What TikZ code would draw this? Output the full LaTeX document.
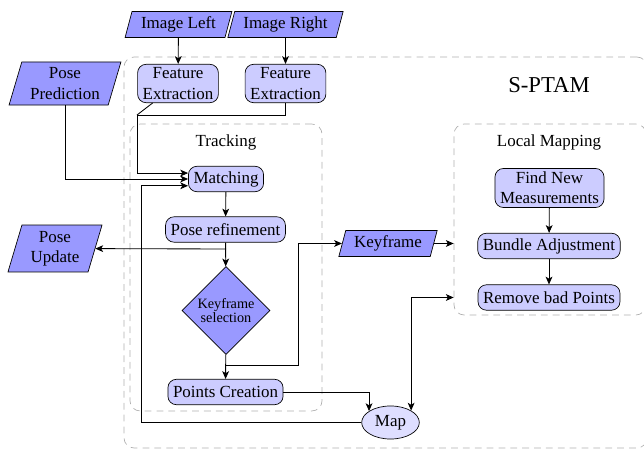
\documentclass[tikz,border=0pt]{standalone}
\usepackage{fontspec}
\setmainfont{Liberation Serif}
\usepackage{tikz}
\usetikzlibrary{shapes.geometric, positioning, arrows.meta}
\definecolor{ioblue}{RGB}{153,153,255}
\definecolor{procblue}{RGB}{204,204,255}
\definecolor{mapblue}{RGB}{222,222,255}
\definecolor{groupgrey}{RGB}{175,175,175}
\tikzset{
	io/.style={trapezium, trapezium left angle=70, trapezium right angle=110, trapezium stretches body=true, draw=black, fill=ioblue, align=center, inner sep=1pt, minimum width=#1},
	io/.default=40pt,
	process/.style={rectangle, rounded corners=5pt, draw=black, fill=procblue, align=center, inner xsep=3pt, inner ysep=2pt, minimum height=15pt},
	group/.style={rectangle, rounded corners=6pt, draw=groupgrey, dash pattern=on 4pt off 3pt, minimum width=#1},
	link/.style={line width=0.5pt},
}

\begin{document}
\begin{tikzpicture}[x=0.59pt, y=-0.59pt, >={Stealth[length=4.6pt, width=4pt, inset=1.2pt]}]

			\tikzstyle{decision}=[diamond, draw=black, fill=ioblue, align=center, inner sep=0pt, minimum width=52pt, minimum height=52pt, font=\fontsize{8.4}{7}\selectfont]
			\tikzstyle{store}=[ellipse, draw=black, fill=mapblue, minimum width=34pt, minimum height=19.5pt, inner sep=0pt]

			\useasboundingbox (0,0) rectangle (644,452);

			% groups
			\node[group=308.6pt, minimum height=230.7pt] (sptam) at (385.5,252.5) {};
			\node[group=113.3pt, minimum height=169.3pt] (tracking) at (226,267.5) {};
			\node[group=113.3pt, minimum height=112.7pt] (localmapping) at (550,219.5) {};
			\node at (549,85) {\fontsize{13.4}{16}\selectfont S-PTAM};
			\node at (226,142) {Tracking};
			\node at (549,142) {Local Mapping};

			% inputs and outputs
			\node[io=63pt, minimum height=15.3pt] (imgleft) at (178.5,24.5) {Image Left};
			\node[io=68pt, minimum height=15.3pt] (imgright) at (285.5,24.5) {Image Right};
			\node[io=66pt, minimum height=25.4pt] (posepred) at (65,83.5) {Pose\\Prediction};
			\node[io=55.5pt, minimum height=27.7pt] (poseupdate) at (55,248.5) {Pose\\Update};
			\node[io=58pt, minimum height=15.3pt] (keyframe) at (388,243.5) {Keyframe};

			% tracking
			\node[process] (fel) at (178,83.5) {Feature\\Extraction};
			\node[process] (fer) at (285.5,83.5) {Feature\\Extraction};
			\node[process] (matching) at (226,179) {Matching};
			\node[process] (poseref) at (225.5,229.5) {Pose refinement};
			\node[decision] (kfsel) at (226,310.5) {Keyframe\\selection};
			\node[process] (pointscreation) at (225.5,392) {Points Creation};
			\node[store] (map) at (390.5,422.5) {Map};

			% local mapping
			\node[process] (findnew) at (549.5,188) {Find New\\Measurements};
			\node[process] (bundle) at (549,246) {Bundle Adjustment};
			\node[process] (removebad) at (549,297.5) {Remove bad Points};

			\coordinate (join) at (137,115);
			\coordinate (prsplit) at (226,249);
			\coordinate (kfsplit) at (226,365);
			\coordinate (kfturn) at (298,365);
			\coordinate (loopx) at (141,0);

			\draw[link, ->] (imgleft) -- (fel);
			\draw[link, ->] (imgright) -- (fer);
			\draw[link] (fel) -- (join);
			\draw[link] (fer) |- (join);
			\draw[link, ->] (join) |- ([yshift=3.5pt]matching.west);
			\draw[link, ->] (posepred) |- (matching);
			\draw[link, ->] (map.west) -- (map.west -| loopx) |- ([yshift=-4pt]matching.west);
			\draw[link, ->] (matching) -- (poseref);
			\draw[link, ->] (poseref) -- (kfsel);
			\draw[link, ->] (prsplit) -- (poseupdate);
			\draw[link, ->] (kfsel) -- (pointscreation);
			\draw[link, ->] (kfsplit) -- (kfturn) |- (keyframe);
			\draw[link, ->] (keyframe) -- (keyframe -| localmapping.west);
			\draw[link, ->] (pointscreation) -| (map.152);
			\draw[link, <->] (map.30) |- (removebad -| localmapping.west);
			\draw[link, ->] (findnew) -- (bundle);
			\draw[link, ->] (bundle) -- (removebad);
		\end{tikzpicture}
\end{document}
